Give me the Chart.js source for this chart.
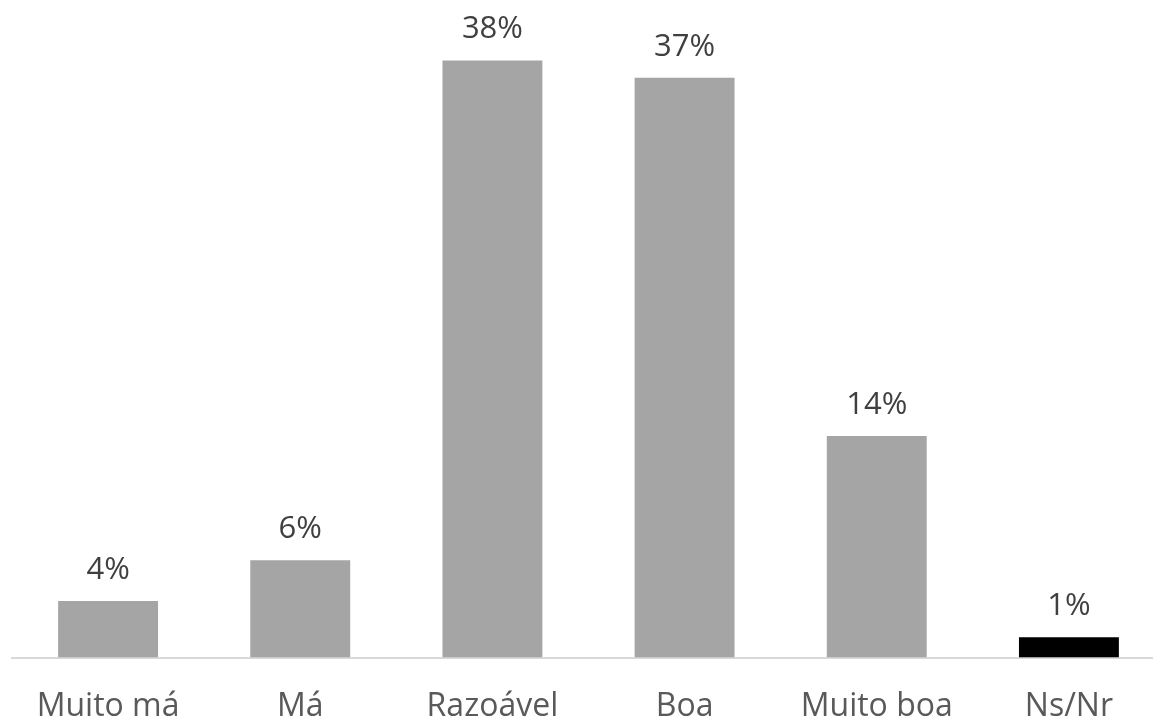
<!DOCTYPE html>
<html>
<head>
<meta charset="utf-8">
<script src="https://cdn.jsdelivr.net/npm/chart.js@4/dist/chart.umd.min.js"></script>
<style>
  html, body { margin: 0; padding: 0; background: #fff; overflow: hidden; }
  #wrap { width: 1170px; height: 760px; }
</style>
</head>
<body>
<div id="wrap"><canvas id="chart"></canvas></div>
<script>
// values (percent)
const categories = ['Muito má', 'Má', 'Razoável', 'Boa', 'Muito boa', 'Ns/Nr'];
const values = [3.6, 6.2, 38.0, 36.9, 14.1, 1.3];
const valueLabels = ['4%', '6%', '38%', '37%', '14%', '1%'];
const barColors = ['#a5a5a5', '#a5a5a5', '#a5a5a5', '#a5a5a5', '#a5a5a5', '#000000'];

// simple data label plugin, draws text above each bar
const barLabels = {
    id: 'barLabels',
    afterDatasetsDraw(chart) {
        const ctx = chart.ctx;
        const meta = chart.getDatasetMeta(0);
        ctx.save();
        ctx.font = '31px "Open Sans"';
        ctx.fillStyle = '#404040';
        ctx.textAlign = 'center';
        ctx.textBaseline = 'alphabetic';
        meta.data.forEach((bar, i) => {
            ctx.fillText(valueLabels[i], bar.x, bar.y - 22);
        });
        ctx.restore();
    }
};

const ctx = document.getElementById('chart').getContext('2d');
const chart = new Chart(ctx, {
    type: 'bar',
    data: {
        labels: categories,
        datasets: [{
            data: values,
            backgroundColor: barColors,
            barPercentage: 0.52,
            categoryPercentage: 1.0
        }]
    },
    options: {
        responsive: true,
        maintainAspectRatio: false,
        animation: false,
        layout: { padding: { left: 12, right: 5, top: 29, bottom: 4 } },
        plugins: {
            legend: { display: false },
            tooltip: { enabled: false }
        },
        scales: {
            x: {
                grid: { display: false, drawTicks: false },
                border: { color: '#d9d9d9', width: 2 },
                ticks: {
                    color: '#595959',
                    font: { family: 'Open Sans', size: 32 },
                    padding: 30,
                    maxRotation: 0
                }
            },
            y: {
                display: false,
                min: 0,
                max: 40
            }
        }
    },
    plugins: [barLabels]
});
</script>
</body>
</html>
